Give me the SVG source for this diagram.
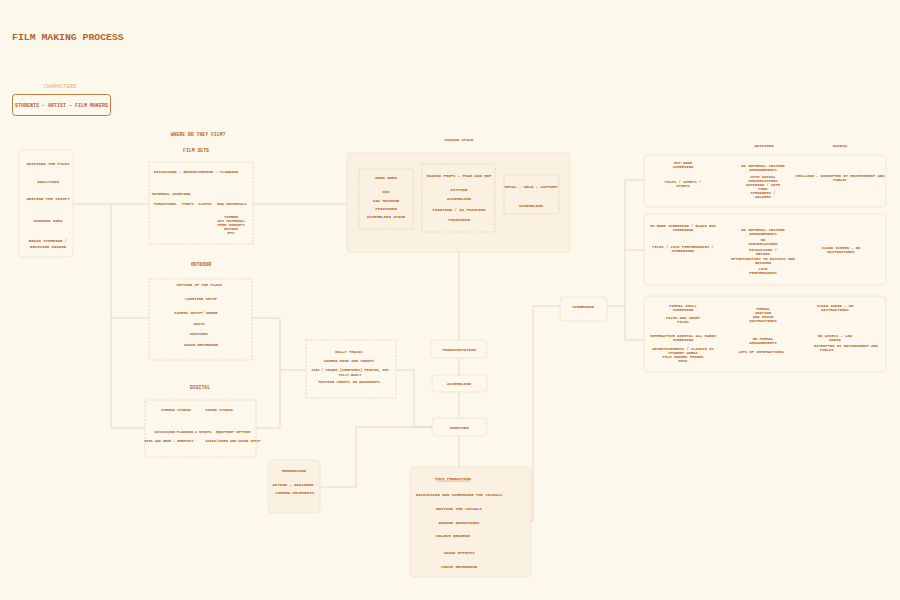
<svg xmlns="http://www.w3.org/2000/svg" width="900" height="600" viewBox="0 0 900 600">
<style>
.t{font-family:"Liberation Mono","DejaVu Sans Mono",monospace;font-size:4px;fill:#b5632c;text-anchor:middle;font-weight:bold}
.h{font-size:4.8px}
.s{font-size:3.8px}
.xs{font-size:3.4px}
.dash{fill:none;stroke:#e6cfb2;stroke-width:0.8;stroke-dasharray:2 1.5}
.card{fill:#fbf1e2;stroke:#f1e2cc;stroke-width:0.8}
.card2{fill:#fdf7ec;stroke:#f1e2cc;stroke-width:0.8}
.conn{fill:none;stroke:#e6d3ba;stroke-width:0.9}
</style>
<rect width="900" height="600" fill="#fdf8ec"/>
<text x="12" y="40" class="t" style="text-anchor:start;font-size:9.8px">FILM MAKING PROCESS</text>

<g id="connectors">
<path class="conn" d="M73 204H149M253 204H347M111 204V428H145M111 318H149"/>
<path class="conn" d="M252 318H280V428H256M280 370H306"/>
<path class="conn" d="M396 370H414V427H432M320 487H356V427H432"/>
<path class="conn" d="M459 252V340M459 358V375M459 392V418M459 436V467"/>
<path class="conn" d="M531 521H533V306H560M607 306H625V180H644M625 250H644M625 306V340H644"/>
</g>

<g id="characters">
<text x="60" y="88" class="t" style="font-size:5.4px;fill:#dcab80;font-weight:normal">CHARACTERS</text>
<rect x="12.5" y="94.5" width="98" height="21" rx="3" fill="none" stroke="#c27a45" stroke-width="1"/>
<text x="61.5" y="106.5" class="t" style="font-size:5px">STUDENTS – ARTIST – FILM MAKERS</text>
</g>

<g id="ideation">
<rect x="19" y="150" width="54" height="107" rx="3" class="card2"/>
<text x="48" y="165" class="t">WATCHING THE FILMS</text>
<text x="48" y="183" class="t">ANALYSING</text>
<text x="48" y="200" class="t">WRITING THE SCRIPT</text>
<text x="48" y="222" class="t">SHARING IDEA</text>
<text x="48" y="242" class="t">BRAIN STORMING /</text>
<text x="48" y="247.5" class="t">DECISION MAKING</text>
</g>

<g id="film-sets">
<text x="198" y="136" class="t h">WHERE DO THEY FILM?</text>
<text x="196" y="152" class="t h">FILM SETS</text>
<rect x="149" y="162" width="104" height="82" class="dash"/>
<text x="196" y="173" class="t s">DISCUSSION – BRAINSTORMING – PLANNING</text>
<text x="171" y="195" class="t s">MATERIAL SOURCING</text>
<text x="165" y="205" class="t s">FURNITURES</text>
<text x="188" y="205" class="t s">PROPS</text>
<text x="205" y="205" class="t s">CLOTHS</text>
<text x="232" y="205" class="t s">RAW MATERIALS</text>
<text x="231" y="218" class="t s">TIMBER</text>
<text x="231" y="222" class="t s">ANY MATERIAL</text>
<text x="231" y="226" class="t s">FROM MARKETS</text>
<text x="231" y="230" class="t s">BUYING</text>
<text x="231" y="234" class="t s">ETC</text>
</g>

<g id="making-space">
<text x="459" y="141" class="t">MAKING SPACE</text>
<rect x="347" y="153" width="223" height="99" rx="4" class="card"/>
<rect x="359" y="169" width="54" height="60" class="dash"/>
<text x="386" y="179" class="t">WOOD WORK</text>
<text x="386" y="193" class="t">CNC</text>
<text x="386" y="202" class="t">SAW MACHINE</text>
<text x="386" y="210" class="t">FINISHING</text>
<text x="386" y="218" class="t">ASSEMBLING SPACE</text>
<rect x="422" y="164" width="73" height="68" class="dash"/>
<text x="459" y="177" class="t">MAKING PROPS – FOAM AND MDF</text>
<text x="459" y="191" class="t">CUTTING</text>
<text x="459" y="200" class="t">ASSEMBLING</text>
<text x="459" y="211" class="t">PAINTING / 3D PRINTING</text>
<text x="459" y="221" class="t">FINISHING</text>
<rect x="504" y="175" width="55" height="39" class="dash"/>
<text x="531" y="188" class="t">METAL – WELD – SUPPORT</text>
<text x="531" y="207" class="t">ASSEMBLING</text>
</g>

<g id="outdoor">
<text x="201" y="266" class="t h">OUTDOOR</text>
<rect x="149" y="279" width="103" height="81" class="dash"/>
<text x="199" y="286" class="t s">SETTING UP THE PLACE</text>
<text x="201" y="300" class="t s">LIGHTING SETUP</text>
<text x="196" y="314" class="t s">CAMERA SETUP/ DRONE</text>
<text x="199" y="325" class="t s">SEATS</text>
<text x="199" y="335" class="t s">COSTUMES</text>
<text x="201" y="346" class="t s">AUDIO RECORDING</text>
</g>

<g id="digital">
<text x="200" y="389" class="t h">DIGITAL</text>
<rect x="145" y="400" width="111" height="57" class="dash"/>
<text x="176" y="411" class="t s">CHROMA STUDIO</text>
<text x="219" y="411" class="t s">SOUND STUDIO</text>
<text x="165" y="433" class="t xs">DISCUSSION</text>
<text x="194" y="433" class="t xs">PLANNING &amp; SHOOTS</text>
<text x="233" y="433" class="t xs">EQUIPMENT SETTING</text>
<text x="169" y="442" class="t xs">RIGS AND GEAR – ROBOTICS</text>
<text x="233" y="442" class="t xs">AUDIO/VIDEO AND SOUND SETUP</text>
</g>

<g id="rigs">
<rect x="306" y="340" width="90" height="58" class="dash"/>
<text x="349" y="353" class="t s">DOLLY TRACKS</text>
<text x="349" y="362" class="t s">CAMERA RIGS AND SHOOTS</text>
<text x="350" y="371" class="t xs">JIBS / CRANES (SOMETIMES) PRINTED, NOT</text>
<text x="350" y="375.5" class="t xs">FULLY BUILT</text>
<text x="349" y="383" class="t s">TESTING SHOOTS IN BACKDROPS</text>
</g>

<g id="transportation">
<rect x="431" y="340" width="56" height="18" rx="4" class="card2"/>
<text x="459" y="350.5" class="t">TRANSPORTATION</text>
</g>
<g id="assembling">
<rect x="432" y="375" width="55" height="17" rx="4" class="card2"/>
<text x="459" y="385" class="t">ASSEMBLING</text>
</g>
<g id="shooting">
<rect x="432" y="418" width="55" height="18" rx="4" class="card2"/>
<text x="459" y="428.5" class="t">SHOOTING</text>
</g>

<g id="rehearsal">
<rect x="268" y="460" width="52" height="53" rx="4" class="card"/>
<text x="294" y="472" class="t">REHEARSING</text>
<text x="293" y="486" class="t">ACTING – DIALOGUE</text>
<text x="295" y="494" class="t">CAMERA MOVEMENTS</text>
</g>

<g id="post-production">
<rect x="410" y="467" width="121" height="110" rx="4" class="card"/>
<text x="453" y="479.5" class="t">POST PRODUCTION</text>
<line x1="436" y1="481" x2="470" y2="481" stroke="#b5632c" stroke-width="0.4"/>
<text x="459" y="495.5" class="t">DISCUSSION AND SCREENING THE VISUALS</text>
<text x="459" y="509.5" class="t">EDITING THE VISUALS</text>
<text x="459" y="523.5" class="t">ADDING ANIMATIONS</text>
<text x="453" y="536.5" class="t">COLOUR GRADING</text>
<text x="459" y="553.5" class="t">SOUND EFFECTS</text>
<text x="459" y="567.5" class="t">VOICE RECORDING</text>
</g>

<g id="screening">
<rect x="560" y="297" width="47" height="24" rx="4" class="card2"/>
<text x="583" y="307.5" class="t">SCREENING</text>
</g>

<g id="headers">
<text x="764" y="147" class="t">WATCHING</text>
<text x="840" y="147" class="t">ACCESS</text>
</g>

<g id="outdoor-screening">
<rect x="644" y="155" width="242" height="52" rx="4" class="card2"/>
<text x="683" y="164" class="t s">OUT DOOR</text>
<text x="683" y="168" class="t s">SCREENING</text>
<text x="683" y="183" class="t s">FILMS / SHORTS /</text>
<text x="683" y="187" class="t s">SPORTS</text>
<text x="763" y="167" class="t s">NO INFORMAL SEATING</text>
<text x="763" y="171" class="t s">ARRANGEMENTS</text>
<text x="763" y="178" class="t s">WITH SOCIAL</text>
<text x="763" y="182" class="t s">CONVERSATIONS</text>
<text x="763" y="186" class="t s">WATCHING / WITH</text>
<text x="763" y="190" class="t s">FOOD</text>
<text x="763" y="194" class="t s">STRANGERS /</text>
<text x="763" y="198" class="t s">WALKERS</text>
<text x="840" y="177" class="t s">CHILLING – DISRUPTED BY ENVIRONMENT AND</text>
<text x="840" y="181" class="t s">PUBLIC</text>
</g>

<g id="indoor-screening">
<rect x="644" y="214" width="242" height="71" rx="4" class="card2"/>
<text x="683" y="227" class="t s">IN DOOR SCREENING / BLACK BOX</text>
<text x="683" y="231" class="t s">SCREENING</text>
<text x="683" y="248" class="t s">FILMS / LIVE PERFORMANCES /</text>
<text x="683" y="252" class="t s">SCREENINGS</text>
<text x="763" y="231" class="t s">NO INFORMAL SEATING</text>
<text x="763" y="235" class="t s">ARRANGEMENTS</text>
<text x="763" y="241" class="t s">NO</text>
<text x="763" y="245" class="t s">CONVERSATIONS</text>
<text x="763" y="251" class="t s">DISCUSSION /</text>
<text x="763" y="255" class="t s">REVIEW</text>
<text x="763" y="260" class="t s">OPPORTUNITIES TO DISCUSS AND</text>
<text x="763" y="264" class="t s">NETWORK</text>
<text x="763" y="270" class="t s">LIVE</text>
<text x="763" y="274" class="t s">PERFORMANCES</text>
<text x="841" y="249" class="t s">CLEAN SCREEN – NO</text>
<text x="841" y="253" class="t s">DISTRACTIONS</text>
</g>

<g id="formal-screening">
<rect x="644" y="296" width="242" height="76" rx="4" class="card2"/>
<text x="683" y="307" class="t s">FORMAL SMALL</text>
<text x="683" y="311" class="t s">SCREENING</text>
<text x="683" y="319" class="t s">FILMS AND SHORT</text>
<text x="683" y="323" class="t s">FILMS</text>
<text x="683" y="337" class="t s">INTERACTIVE DIGITAL ALL HANDS</text>
<text x="683" y="341" class="t s">SCREENING</text>
<text x="683" y="350" class="t s">ADVERTISEMENTS / CLIMATE IS</text>
<text x="683" y="354" class="t s">STUDENT WORKS</text>
<text x="683" y="358" class="t s">FILM MAKERS THINGS</text>
<text x="683" y="362" class="t s">MISC</text>
<text x="763" y="310" class="t s">FORMAL</text>
<text x="763" y="314" class="t s">SEATING</text>
<text x="763" y="318" class="t s">AND HOUSE</text>
<text x="763" y="322" class="t s">INSTRUCTIONS</text>
<text x="763" y="340" class="t s">NO FORMAL</text>
<text x="763" y="344" class="t s">ARRANGEMENTS</text>
<text x="761" y="353" class="t s">LOTS OF INTERACTIONS</text>
<text x="835" y="307" class="t s">CLEAN AUDIO – NO</text>
<text x="835" y="311" class="t s">DISTRACTIONS</text>
<text x="835" y="337" class="t s">NO ACCESS – LOW</text>
<text x="835" y="341" class="t s">AUDIO</text>
<text x="846" y="347" class="t s">DISRUPTED BY ENVIRONMENT AND</text>
<text x="820" y="351" class="t s" style="text-anchor:start">PUBLIC</text>
</g>
</svg>
